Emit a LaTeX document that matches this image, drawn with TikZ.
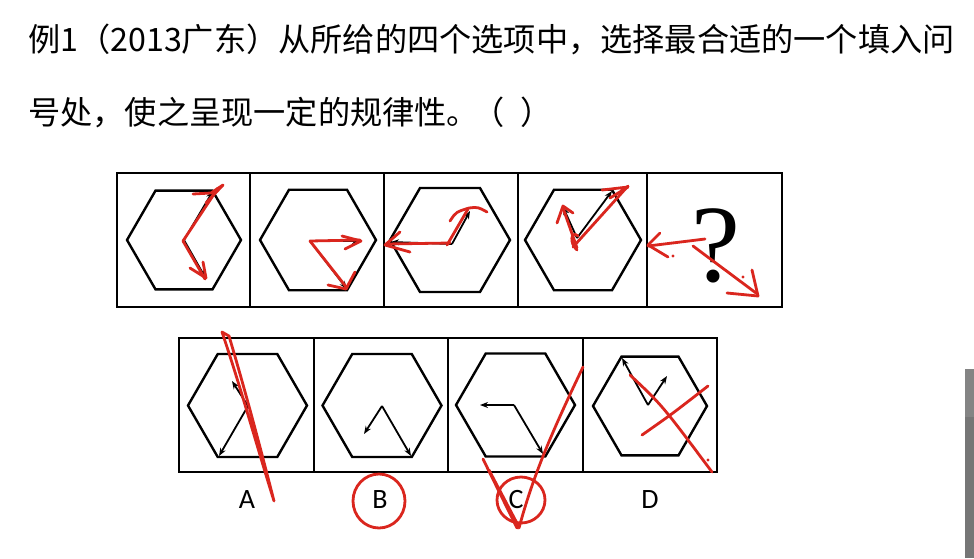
\documentclass[tikz,border=0pt]{standalone}
\usepackage{fontspec}
\newfontfamily\cjk{Noto Sans CJK SC}
\newfontfamily\lblfont{Carlito}
\newfontfamily\qfont{Liberation Serif}
\usetikzlibrary{arrows.meta}
\definecolor{pen}{RGB}{218,38,30}
\definecolor{barg}{RGB}{118,118,118}
\definecolor{bargl}{RGB}{132,132,132}
\newcommand\hexat[3]{\draw[hexa] (#1,#2) +(0:#3) -- +(60:#3) -- +(120:#3) -- +(180:#3) -- +(240:#3) -- +(300:#3) -- cycle;}
\begin{document}
\begin{tikzpicture}[x=1pt,y=-1pt,
  frame/.style={line width=2pt,black},
  hexa/.style={line width=2.4pt,black,line join=miter},
  arr/.style={line width=1.8pt,black,-{Stealth[length=8pt,width=6pt]}},
  redink/.style={pen,line width=2.8pt,line cap=round,line join=round},
  qtext/.style={font=\cjk\fontsize{32.2}{32.2}\selectfont,anchor=base west,inner sep=0pt},
  lbl/.style={font=\lblfont\fontsize{28}{28}\selectfont,anchor=base,inner sep=0pt}]
\useasboundingbox (0,0) rectangle (974,558);
\fill[white] (0,0) rectangle (974,558);
% question text
\node[qtext] (l1) at (28,51) {例1（2013广东）从所给的四个选项中，选择最合适的一个填入问};
\node[qtext] (l2) at (28,124) {号处，使之呈现一定的规律性。\hspace{-7pt}（\hspace{16pt}）};
% top row frames
\draw[frame] (117,173) rectangle (782,307);
\foreach \xx in {250,384,518,647} \draw[frame] (\xx,173) -- (\xx,307);
% bottom row frames
\draw[frame] (179,338) rectangle (717,472);
\foreach \xx in {314,448,583} \draw[frame] (\xx,338) -- (\xx,472);
% hexagons
\hexat{184}{240}{57}
\hexat{318}{240}{58}
\hexat{450}{240}{60}
\hexat{583}{240}{58}
\hexat{247.5}{405.5}{59.5}
\hexat{382}{405.5}{59.5}
\hexat{515.5}{405}{59.5}
\hexat{650}{406}{57}
% top row black arrows
\coordinate (b1) at (184,240);
\coordinate (b1a) at (213,191); \coordinate (b1b) at (205,277);
\draw[arr] (b1) -- (b1a); \draw[arr] (b1) -- (b1b);
\coordinate (b2) at (310,241);
\coordinate (b2a) at (360,241); \coordinate (b2b) at (347,289);
\draw[arr] (b2) -- (b2a); \draw[arr] (b2) -- (b2b);
\coordinate (b3) at (452,244);
\coordinate (b3a) at (470,211); \coordinate (b3b) at (391,242);
\draw[arr] (b3) -- (b3a); \draw[arr] (b3) -- (b3b);
\coordinate (b4) at (577,238);
\coordinate (b4a) at (612,191); \coordinate (b4b) at (563,207);
\draw[arr] (b4) -- (b4a); \draw[arr] (b4) -- (b4b);
\node[font=\qfont\fontsize{110}{110}\selectfont,anchor=base,inner sep=0pt] (q) at (716,281) {?};
% bottom row black arrows
\coordinate (ba) at (248,406);
\coordinate (baa) at (219,456); \coordinate (bab) at (232,381);
\draw[arr] (ba) -- (baa); \draw[arr] (ba) -- (bab);
\coordinate (bb) at (382,406);
\coordinate (bba) at (364,434); \coordinate (bbb) at (411,456);
\draw[arr] (bb) -- (bba); \draw[arr] (bb) -- (bbb);
\coordinate (bc) at (514,405);
\coordinate (bca) at (480,405); \coordinate (bcb) at (543,454);
\draw[arr] (bc) -- (bca); \draw[arr] (bc) -- (bcb);
\coordinate (bd) at (648,405);
\coordinate (bda) at (622,358); \coordinate (bdb) at (667,376);
\draw[arr] (bd) -- (bda); \draw[arr] (bd) -- (bdb);
% labels
\node[lbl] (la) at (247,508) {A};
\node[lbl] (lb) at (380,508) {B};
\node[lbl] (lc) at (516,508) {C};
\node[lbl] (ld) at (650,508) {D};
% red annotations, top row
\draw[redink] (183,241) -- (218,188);
\draw[redink] (193,194) -- (211,193) -- (223,185) -- (206,203);
\draw[redink] (183,241) -- (205,279);
\draw[redink] (190,268) -- (206,278) -- (203,262);
\draw[redink] (310,241) -- (360,240);
\draw[redink] (342,236) -- (361,241) -- (345,249);
\draw[redink] (310,241) -- (347,288);
\draw[redink] (328,285) -- (346,289) -- (355,272);
\draw[redink] (447,245) -- (468,209);
\draw[redink] (450,221) .. controls (456,212) .. (469,208) .. controls (478,207) .. (487,212);
\draw[redink] (450,243) -- (386,244);
\draw[redink] (400,232) -- (385,245) -- (410,252);
\draw[redink] (573,247) -- (628,186);
\draw[redink] (602,190) -- (628,187) -- (610,198);
\draw[redink] (577,248) -- (563,208);
\draw[redink] (557,223) -- (563,206) -- (573,213);
\draw[redink] (577,250) .. controls (569,243) and (571,230) .. (578,236);
\draw[redink] (705,239) -- (648,246);
\draw[redink] (660,233) -- (648,245) -- (668,257);
\fill[pen] (673,256) circle (1.6pt);
\draw[redink] (693,246) -- (756,293);
\draw[redink] (727,293) -- (758,296) -- (752,270);
\fill[pen] (743,277) circle (1.6pt);
% red annotations, bottom row
\draw[redink] (222,332) .. controls (240,385) and (258,450) .. (274,501)
  .. controls (264,462) and (248,400) .. (229,336) -- (222,332);
\draw[redink] (379,501) ellipse [x radius=26pt, y radius=27pt];
\draw[redink] (521,500) ellipse [x radius=24pt, y radius=23pt];
\draw[redink] (483,459) -- (517,528);
\draw[redink] (489,470) -- (519,527);
\draw[redink] (519,528) .. controls (532,480) and (548,440) .. (583,367);
\draw[redink] (630,375) .. controls (662,405) .. (712,472);
\draw[redink] (642,435) .. controls (672,414) .. (708,386);
\fill[pen] (708,460) circle (1.6pt);
% grey bar at right edge
\fill[barg] (965,369) rectangle (974,558);
\fill[bargl] (965,369) rectangle (974,417);
\end{tikzpicture}
\end{document}
